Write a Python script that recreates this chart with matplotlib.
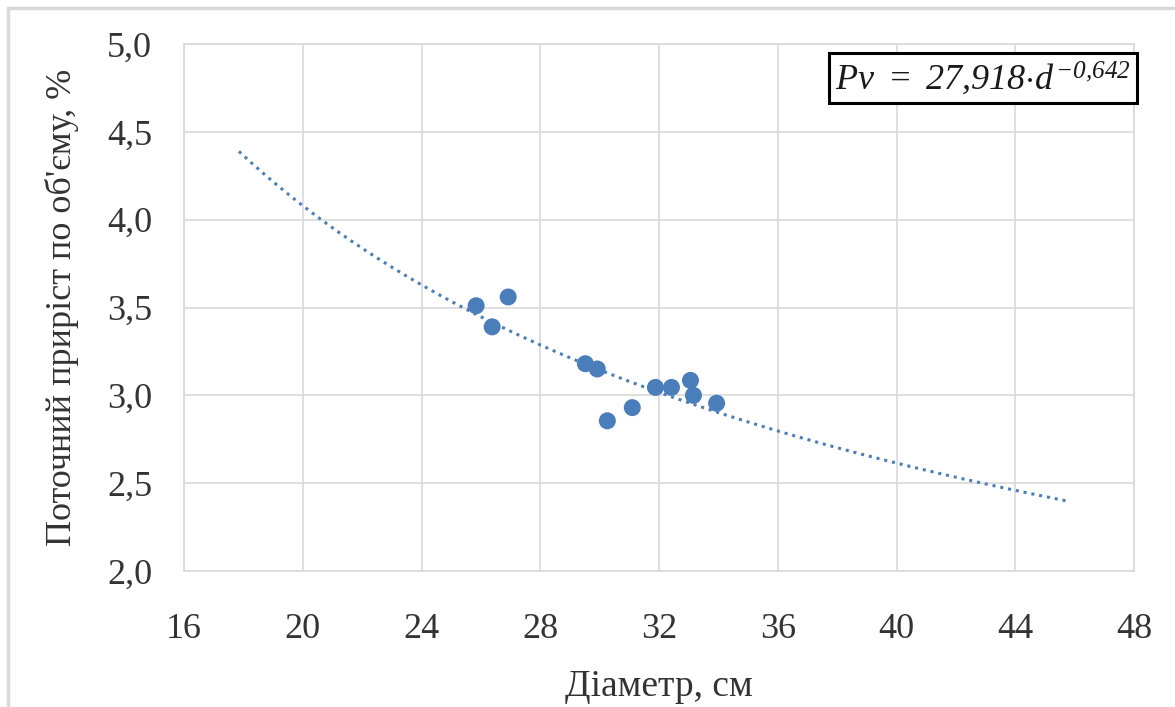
import numpy as np
import matplotlib
matplotlib.use('Agg')
import matplotlib.pyplot as plt
from matplotlib.patches import Rectangle

# ---- data ----
diameter = [25.84, 26.92, 26.38, 29.52, 29.92, 30.26, 31.10, 31.88, 32.42, 33.06, 33.16, 33.94]
increment = [3.51, 3.56, 3.39, 3.18, 3.15, 2.855, 2.93, 3.045, 3.045, 3.085, 3.00, 2.955]

# power trendline shown in the chart: Pv = a * d^b
trend_a = 27.918
trend_b = -0.642
trend_range = (17.85, 45.8)

x_ticks = [16, 20, 24, 28, 32, 36, 40, 44, 48]
y_ticks = [2.0, 2.5, 3.0, 3.5, 4.0, 4.5, 5.0]

COLOR = '#4A7EBB'
GRID = '#D9D9D9'
TEXT = '#333333'

plt.rcParams['font.family'] = ['Liberation Serif', 'DejaVu Serif']
# the only math text is the trendline equation, which is all italic
plt.rcParams['mathtext.fontset'] = 'custom'
plt.rcParams['mathtext.rm'] = 'Liberation Serif:italic'
plt.rcParams['mathtext.it'] = 'Liberation Serif:italic'

W, H = 1175, 707
fig = plt.figure(figsize=(W / 100, H / 100), dpi=100)
ax = fig.add_axes([184 / W, 1 - 571 / H, (1134 - 184) / W, (571 - 44) / H])

# outer chart frame (runs off the right / bottom edge)
fig.patches.append(Rectangle((8 / W, -0.1), 1.2, 1 - 8 / H + 0.1, transform=fig.transFigure,
                             fill=False, edgecolor='#D9D9D9', lw=2.5, zorder=0))

d = np.linspace(trend_range[0], trend_range[1], 200)
ax.plot(d, trend_a * d ** trend_b, color=COLOR, lw=2.2, ls=(0, (1, 1.6)), zorder=2)
ax.scatter(diameter, increment, s=150, color=COLOR, edgecolors='none', zorder=3)

ax.set_xlim(16, 48)
ax.set_ylim(2.0, 5.0)
ax.set_xticks(x_ticks)
ax.set_yticks(y_ticks)
ax.set_xticklabels([str(v) for v in x_ticks])
ax.set_yticklabels([f'{v:.1f}'.replace('.', ',') for v in y_ticks])
ax.tick_params(length=0, labelsize=26, colors=TEXT)
ax.tick_params(axis='y', pad=23)
ax.tick_params(axis='x', pad=30)
ax.grid(True, color=GRID, lw=1.2)
ax.set_axisbelow(True)
for sp in ax.spines.values():
    sp.set_color(GRID)
    sp.set_linewidth(1.2)

ax.set_xlabel('Діаметр, см', fontsize=27, color=TEXT, labelpad=17)
ax.set_ylabel('Поточний приріст по об\'єму, %', fontsize=26, color=TEXT, labelpad=20)

ax.text(0.997, 0.935, r'$Pv\ =\ 27{,}918{\cdot}d^{-0{,}642}$', transform=ax.transAxes,
        ha='right', va='center', fontsize=26, color='#1a1a1a',
        bbox=dict(boxstyle='square,pad=0.17', facecolor='white', edgecolor='black', lw=2.2))

fig.savefig('out.png', dpi=100)
